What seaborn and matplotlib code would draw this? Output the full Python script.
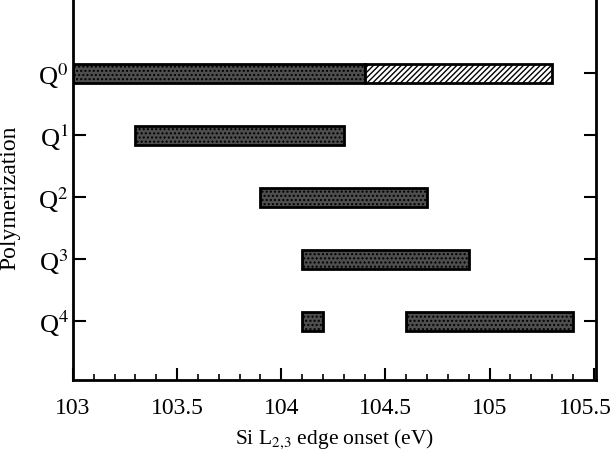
import numpy as np
import pandas as pd
import matplotlib
matplotlib.use("Agg")
import matplotlib.pyplot as plt
import seaborn as sns
from matplotlib.ticker import MultipleLocator

# polymerization levels (top to bottom) and the onset ranges for each
levels = ["Q$^0$", "Q$^1$", "Q$^2$", "Q$^3$", "Q$^4$"]
seg_level = [0, 0, 1, 2, 3, 4, 4]
seg_start = [103.0, 104.4, 103.3, 103.9, 104.1, 104.1, 104.6]
seg_end = [104.4, 105.3, 104.3, 104.7, 104.9, 104.2, 105.4]
seg_kind = ["solid", "hatched", "solid", "solid", "solid", "solid", "solid"]
xticks = [103, 103.5, 104, 104.5, 105, 105.5]
xticklabels = ["103", "103.5", "104", "104.5", "105", "105.5"]

df = pd.DataFrame({"level": seg_level, "start": seg_start, "end": seg_end, "kind": seg_kind})

sns.set_style("ticks", {"xtick.direction": "in", "ytick.direction": "in",
                        "axes.edgecolor": "black", "xtick.color": "black",
                        "ytick.color": "black", "text.color": "black",
                        "axes.labelcolor": "black"})
plt.rcParams['font.family'] = ['Liberation Serif', 'DejaVu Serif']
plt.rcParams['mathtext.fontset'] = 'stix'

fig = plt.figure(figsize=(6.13, 4.58), dpi=100)
ax = fig.add_axes([0.119, 0.170, 0.853, 0.830])

for _, row in df.iterrows():
    if row.kind == "solid":
        ax.barh(row.level, row.end - row.start, left=row.start, height=0.31,
                color="#4e4e4e", edgecolor="black", linewidth=2, hatch="....")
    else:
        ax.barh(row.level, row.end - row.start, left=row.start, height=0.31,
                color="white", edgecolor="black", linewidth=2, hatch="//////")

ax.set_xlim(103, 105.51)
ax.set_ylim(4.95, -1.18)
ax.set_yticks(range(len(levels)))
ax.set_yticklabels(levels, fontsize=19)
ax.set_xticks(xticks)
# last label is drawn by hand, a little to the left, so it fits in the figure
ax.set_xticklabels(xticklabels[:-1] + [""], fontsize=17)
ax.annotate(xticklabels[-1], xy=(xticks[-1], 0), xycoords=("data", "axes fraction"),
            xytext=(-6, -13), textcoords="offset points",
            ha="center", va="top", fontsize=17)
ax.xaxis.set_minor_locator(MultipleLocator(0.1))

ax.tick_params(axis="x", which="major", direction="in", length=9, width=1.5, pad=13)
ax.tick_params(axis="y", which="major", direction="in", length=9, width=1.5, pad=3)
ax.tick_params(axis="x", which="minor", direction="in", length=4, width=1.2)
ax.tick_params(axis="y", right=True, left=True)
ax.tick_params(axis="x", top=False)

for side in ["left", "right", "bottom"]:
    ax.spines[side].set_linewidth(2)
ax.spines["top"].set_visible(False)

ax.set_xlabel("Si L$_{2{,}3}$ edge onset (eV)", fontsize=15.5, labelpad=6)
ax.set_ylabel("Polymerization", fontsize=17, labelpad=6)
ax.yaxis.set_label_coords(-0.1, 0.48)

plt.savefig("out.png", dpi=100)
